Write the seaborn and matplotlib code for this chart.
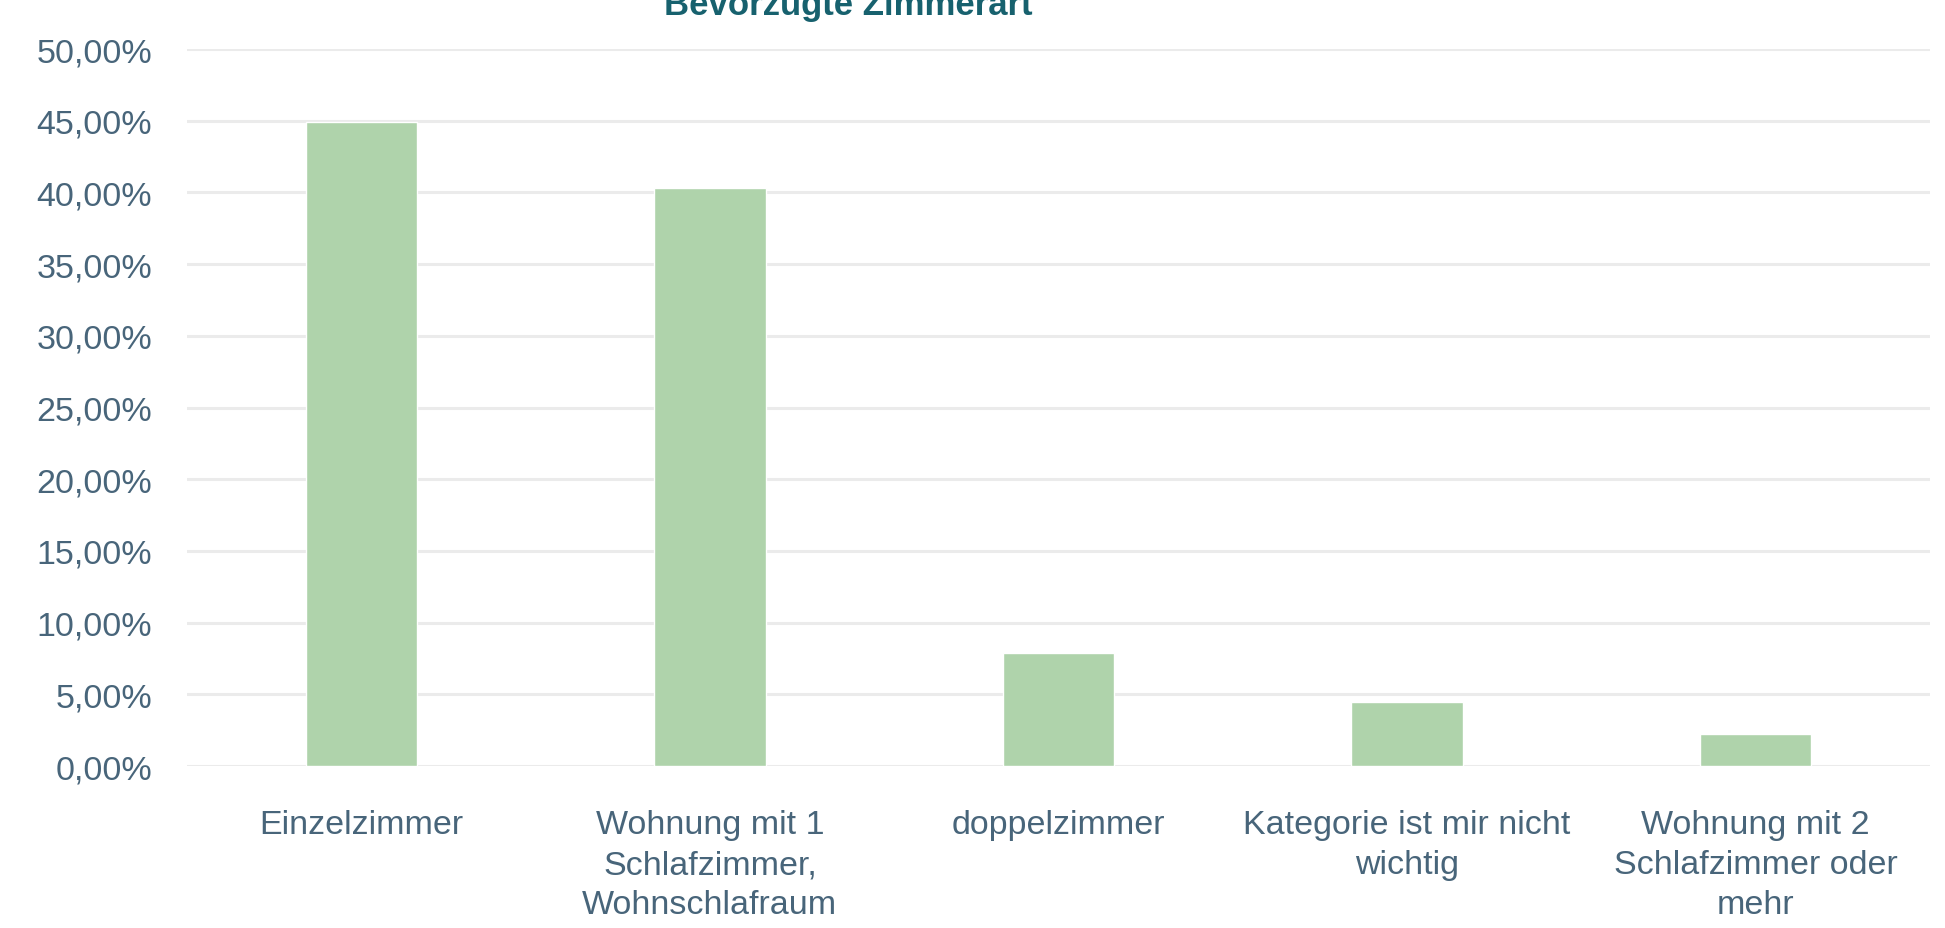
import matplotlib
matplotlib.use('Agg')
import matplotlib.pyplot as plt
import matplotlib.ticker as mticker
import seaborn as sns
import pandas as pd

# Data
categories = ['Einzelzimmer',
              'Wohnung mit 1\nSchlafzimmer,\nWohnschlafraum',
              'doppelzimmer',
              'Kategorie ist mir nicht\nwichtig',
              'Wohnung mit 2\nSchlafzimmer oder\nmehr']
shares = [44.9, 40.3, 7.85, 4.45, 2.2]
y_ticks = [0, 5, 10, 15, 20, 25, 30, 35, 40, 45, 50]

df = pd.DataFrame({'kategorie': categories, 'anteil': shares})

sns.set_theme(style='white')
plt.rcParams['font.family'] = ['Liberation Sans', 'DejaVu Sans']

text_col = '#48657a'
bar_col = '#afd3ab'
grid_col = '#ebebeb'

fig = plt.figure(figsize=(19.45, 9.29), dpi=100)
ax = fig.add_axes([187 / 1945, 1 - 767 / 929, (1930 - 187) / 1945, (767 - 50) / 929])

sns.barplot(data=df, x='kategorie', y='anteil', color=bar_col, width=0.32,
            saturation=1, ax=ax, zorder=3)

ax.set_ylim(0, 50)
ax.set_xlim(-0.5, 4.5)
ax.set_yticks(y_ticks)
ax.yaxis.set_major_formatter(mticker.FuncFormatter(lambda v, p: f'{v:.2f}%'.replace('.', ',')))
ax.grid(axis='y', color=grid_col, linewidth=2.2, zorder=0)
ax.set_axisbelow(True)
for s in ax.spines.values():
    s.set_visible(False)

ax.set_xlabel('')
ax.set_ylabel('')
ax.tick_params(axis='y', length=0, pad=25, labelsize=24.5, labelcolor=text_col)
ax.tick_params(axis='x', length=0, pad=31, labelsize=24.5, labelcolor=text_col)
for lab in ax.get_xticklabels():
    lab.set_linespacing(1.38)
    lab.set_va('top')

# title is cut at the top edge in the source image
fig.text(0.436, 1 - 15 / 929, 'Bevorzugte Zimmerart', ha='center', va='baseline',
         fontsize=25, fontweight='bold', color='#17616e')

fig.savefig('out.png', dpi=100)
